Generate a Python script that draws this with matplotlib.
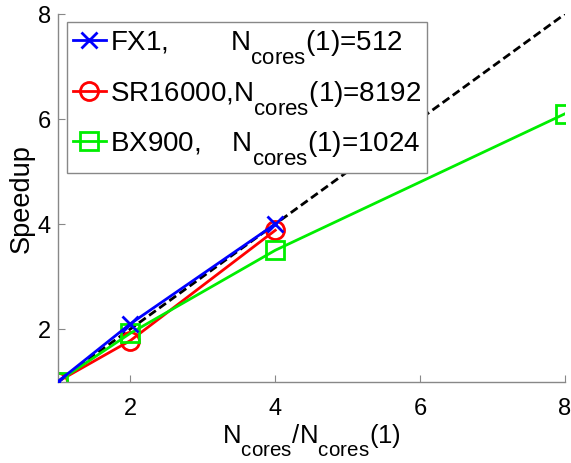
import matplotlib
matplotlib.use("Agg")
import matplotlib.pyplot as plt
try:
    import matplotlib._mathtext as _mt
    _mt.SHRINK_FACTOR = 0.8
    _mt.FontConstantsBase.sub1 = 0.95
except Exception:
    pass

plt.rcParams['font.family'] = ['Liberation Sans', 'DejaVu Sans']
plt.rcParams['mathtext.fontset'] = 'custom'
plt.rcParams['mathtext.rm'] = 'Liberation Sans'
plt.rcParams['mathtext.it'] = 'Liberation Sans'

fx1_x = [1, 2, 4]
fx1_y = [1, 2.1, 4.0]
sr_x = [1, 2, 4]
sr_y = [1, 1.78, 3.88]
bx_x = [1, 2, 4, 8]
bx_y = [1, 1.92, 3.5, 6.1]
ideal_x = [1, 8]
ideal_y = [1, 8]

labels = [r'FX1,        N$_{\mathrm{cores}}$(1)=512',
          r'SR16000,N$_{\mathrm{cores}}$(1)=8192',
          r'BX900,    N$_{\mathrm{cores}}$(1)=1024']
ticks = [2, 4, 6, 8]

fig = plt.figure(figsize=(5.71, 4.64), dpi=100)
ax = fig.add_axes([58/571, 1-382.5/464, (565-58)/571, (382.5-15)/464])

ax.plot(ideal_x, ideal_y, color='black', ls=(0, (3, 1.5)), lw=2, zorder=1)
ax.plot(fx1_x, fx1_y, color='#0000ff', lw=2, marker='x', ms=12, mew=2, label=labels[0], zorder=3)
ax.plot(sr_x, sr_y, color='#ff0000', lw=2, marker='o', ms=13, mfc='none', mew=2, label=labels[1], zorder=2)
ax.plot(bx_x, bx_y, color='#00ee00', lw=2, marker='s', ms=13, mfc='none', mew=2, label=labels[2], zorder=2)

ax.set_xlim(1, 8)
ax.set_ylim(1, 8)
ax.set_xticks(ticks)
ax.set_yticks(ticks)
ax.tick_params(direction='in', length=5, color='#888888', labelsize=17)
ax.tick_params(axis='x', pad=11)
ax.tick_params(axis='y', pad=5)
for s in ['top', 'right']:
    ax.spines[s].set_visible(False)
for s in ['left', 'bottom']:
    ax.spines[s].set_color('#888888')
    ax.spines[s].set_linewidth(1)

ax.set_xlabel(r'N$_{\mathrm{cores}}$/N$_{\mathrm{cores}}$(1)', fontsize=18.5, labelpad=2)
ax.set_ylabel('Speedup', fontsize=19.5, labelpad=2)

leg = ax.legend(loc='upper left', bbox_to_anchor=(0.018, 0.978), fontsize=20,
                frameon=True, fancybox=False, edgecolor='#888888', framealpha=1,
                handlelength=1.2, handletextpad=0.15, borderpad=0.2, labelspacing=0.45,
                borderaxespad=0)
leg.get_frame().set_linewidth(1)

fig.savefig('out.png', dpi=100)
